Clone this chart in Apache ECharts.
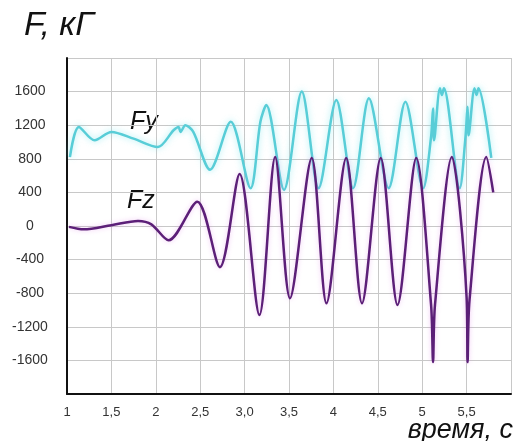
<!DOCTYPE html>
<html>
<head>
<meta charset="utf-8">
<script src="https://cdn.jsdelivr.net/npm/echarts@6/dist/echarts.min.js"></script>
<style>
  html, body { margin: 0; padding: 0; background: #fff; }
  #chart { width: 514px; height: 441px; }
</style>
</head>
<body>
<div id="chart"></div>
<script>
// --- data: time, s / force, kG ---
const fyTime  = [1.033, 1.133, 1.311, 1.5, 1.75, 2.022, 2.2, 2.256, 2.278, 2.333, 2.422, 2.611, 2.844, 3.067, 3.178, 3.244, 3.444, 3.644, 3.833, 4.033, 4.222, 4.4, 4.622, 4.811, 5.011, 5.1, 5.122, 5.133, 5.2, 5.222, 5.244, 5.422, 5.489, 5.511, 5.522, 5.589, 5.611, 5.633, 5.778];
const fyValue = [820, 1180, 1020, 1120, 1040, 940, 1140, 1180, 1120, 1200, 1120, 670, 1240, 450, 1240, 1440, 430, 1600, 450, 1500, 450, 1520, 450, 1480, 450, 1060, 1400, 1020, 1640, 1560, 1640, 450, 1080, 1420, 1080, 1640, 1560, 1640, 810];

const fzTime  = [1.022, 1.189, 1.5, 1.8, 1.95, 2.144, 2.467, 2.722, 2.944, 3.167, 3.344, 3.511, 3.756, 3.922, 4.144, 4.322, 4.533, 4.722, 4.933, 5.1, 5.122, 5.144, 5.333, 5.5, 5.511, 5.533, 5.722, 5.8];
const fzValue = [-10, -40, 10, 60, 20, -170, 290, -490, 620, -1060, 820, -860, 810, -920, 810, -920, 810, -940, 810, -940, -1620, -940, 820, -850, -1620, -880, 820, 400];

const xTickLabels = { '1': '1', '1.5': '1,5', '2': '2', '2.5': '2,5', '3': '3,0', '3.5': '3,5', '4': '4', '4.5': '4,5', '5': '5', '5.5': '5,5' };

const fontFam = '"Liberation Sans", Arial, sans-serif';

const chart = echarts.init(document.getElementById('chart'));
chart.setOption({
    animation: false,
    grid: { left: 67, right: -3, top: 58, bottom: 47 },
    xAxis: {
        type: 'value', min: 1, max: 6, interval: 0.5,
        axisLine: { show: true, onZero: false, lineStyle: { color: '#111', width: 2 } },
        axisTick: { show: false },
        splitLine: { show: true, lineStyle: { color: '#c8c8c8', width: 1 } },
        axisLabel: {
            margin: 12, fontSize: 13, color: '#333', fontFamily: fontFam,
            formatter: v => xTickLabels[String(v)] || ''
        }
    },
    yAxis: {
        type: 'value', min: -2000, max: 2000, interval: 400,
        axisLine: { show: true, onZero: false, lineStyle: { color: '#111', width: 2 } },
        axisTick: { show: false },
        splitLine: { show: true, lineStyle: { color: '#c8c8c8', width: 1 } },
        axisLabel: {
            margin: 37, align: 'center', fontSize: 14, color: '#333', fontFamily: fontFam,
            formatter: v => (Math.abs(v) === 2000 ? '' : String(v))
        }
    },
    series: [
        {
            name: 'Fy', type: 'line', smooth: 0.3, symbol: 'none',
            data: fyTime.map((t, i) => [t, fyValue[i]]),
            lineStyle: { color: '#58cdd7', width: 2.5, shadowColor: 'rgba(120,230,236,0.7)', shadowBlur: 6 }
        },
        {
            name: 'Fz', type: 'line', smooth: 0.3, symbol: 'none',
            data: fzTime.map((t, i) => [t, fzValue[i]]),
            lineStyle: { color: '#5c1f78', width: 2.5, shadowColor: 'rgba(220,120,230,0.4)', shadowBlur: 5 }
        }
    ],
    graphic: [
        { type: 'text', left: 24, top: 9, style: { text: 'F, кГ', font: 'italic 34px ' + fontFam, fill: '#111' } },
        { type: 'text', right: 1, top: 417, style: { text: 'время, с', font: 'italic 27px ' + fontFam, fill: '#111' } },
        { type: 'text', left: 130, top: 110, style: { text: 'Fy', font: 'italic 25px ' + fontFam, fill: '#111' } },
        { type: 'text', left: 127, top: 189, style: { text: 'Fz', font: 'italic 25px ' + fontFam, fill: '#111' } }
    ]
});
</script>
</body>
</html>
